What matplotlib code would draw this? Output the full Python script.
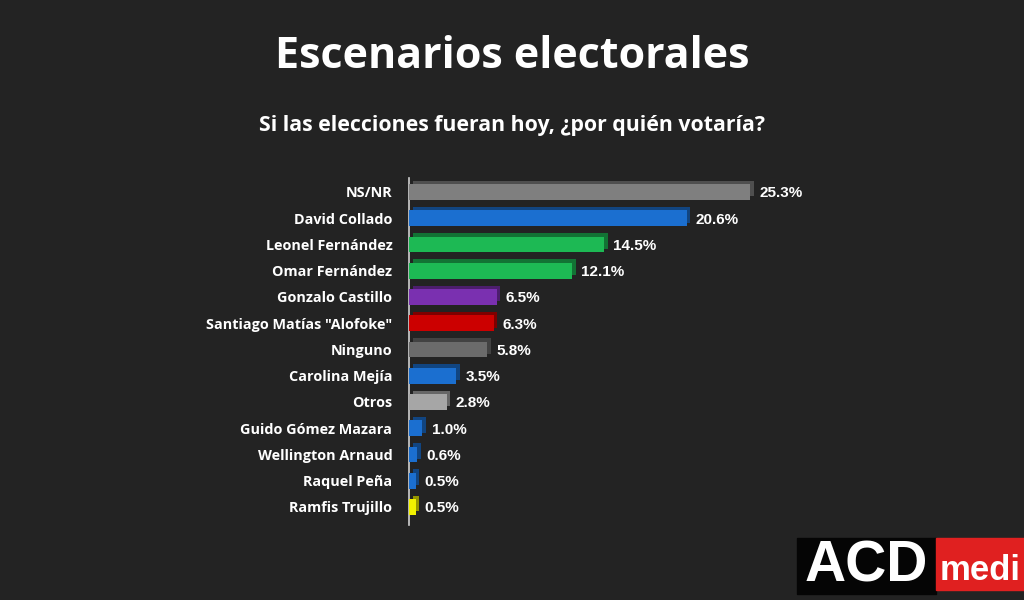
import matplotlib
matplotlib.use("Agg")
import matplotlib.pyplot as plt
import matplotlib.transforms as mtransforms
from matplotlib.patches import Rectangle
import matplotlib.colors as mcolors

categories = ["NS/NR", "David Collado", "Leonel Fernández", "Omar Fernández",
              "Gonzalo Castillo", 'Santiago Matías "Alofoke"', "Ninguno",
              "Carolina Mejía", "Otros", "Guido Gómez Mazara", "Wellington Arnaud",
              "Raquel Peña", "Ramfis Trujillo"]
values = [25.3, 20.6, 14.5, 12.1, 6.5, 6.3, 5.8, 3.5, 2.8, 1.0, 0.6, 0.5, 0.5]
value_labels = ["25.3%", "20.6%", "14.5%", "12.1%", "6.5%", "6.3%", "5.8%",
                "3.5%", "2.8%", "1.0%", "0.6%", "0.5%", "0.5%"]
colors = ["#7f7f7f", "#1b6fd0", "#1db954", "#1db954", "#7a30b0", "#cc0000",
          "#6b6b6b", "#1b6fd0", "#a6a6a6", "#1b6fd0", "#1b6fd0", "#1b6fd0", "#f0f000"]

title = "Escenarios electorales"
subtitle = "Si las elecciones fueran hoy, ¿por quién votaría?"

BG = "#232323"
FONT = ["Open Sans", "DejaVu Sans"]

fig = plt.figure(figsize=(10.24, 6.0), dpi=100, facecolor=BG)
ax = fig.add_axes([409 / 1024, 1 - 525 / 600, (1000 - 409) / 1024, (525 - 178) / 600])
ax.set_facecolor("none")

y = list(range(len(categories)))
bh = 0.6

# depth (3D-ish) layer drawn offset behind the front face
offset = mtransforms.ScaledTranslation(3.5 / 100, 3.5 / 100, fig.dpi_scale_trans)
dark = [tuple(c * 0.62 for c in mcolors.to_rgb(col)) for col in colors]
ax.barh(y, values, height=bh, color=dark, transform=ax.transData + offset, zorder=2)
ax.barh(y, values, height=bh, color=colors, zorder=3)

for yi, v, lab in zip(y, values, value_labels):
    ax.annotate(lab, (v, yi), xytext=(6.5, -1), textcoords="offset points",
                ha="left", va="center", color="white", fontsize=11,
                fontweight="bold", family=["Liberation Sans", "DejaVu Sans"], zorder=4)

ax.set_xlim(0, (1000 - 409) / 13.48)
ax.set_ylim(12.69, -0.53)
ax.set_yticks(y)
ax.set_yticklabels(categories, color="white", fontsize=10.4, fontweight="bold", family=FONT)
ax.tick_params(axis="y", length=0, pad=12)
ax.set_xticks([])
for s in ["top", "right", "bottom"]:
    ax.spines[s].set_visible(False)
ax.spines["left"].set_color("#d0d0d0")
ax.spines["left"].set_linewidth(1.2)

fig.text(0.5, 1 - 57 / 600, title, ha="center", va="center", color="white",
         fontsize=31, fontweight="bold", family=FONT)
fig.text(0.5, 1 - 126 / 600, subtitle, ha="center", va="center", color="white",
         fontsize=15.3, fontweight="bold", family=FONT)

# logo
fig.patches.append(Rectangle((797 / 1024, 1 - 594 / 600), (936 - 797) / 1024, 56 / 600,
                             transform=fig.transFigure, color="#050505", zorder=5))
fig.patches.append(Rectangle((936 / 1024, 1 - 590 / 600), (1024 - 936) / 1024, 52 / 600,
                             transform=fig.transFigure, color="#e02020", zorder=5))
fig.text(866 / 1024, 1 - 567 / 600, "ACD", ha="center", va="center", color="white",
         fontsize=41, fontweight="bold", family=["Liberation Sans", "DejaVu Sans"], zorder=6)
fig.text(940 / 1024, 1 - 571 / 600, "medi", ha="left", va="center", color="white",
         fontsize=25, fontweight="bold", family=["Liberation Sans", "DejaVu Sans"], zorder=6)

fig.savefig("out.png", dpi=100, facecolor=BG)
